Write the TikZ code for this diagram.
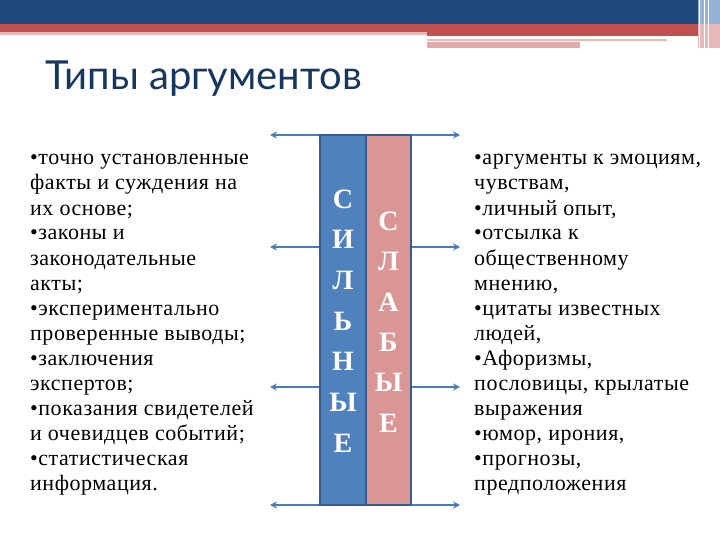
\documentclass[tikz,border=0pt]{standalone}
\usepackage{fontspec}
\setmainfont{Liberation Serif}
\newfontfamily\bodyfont[LetterSpace=2.5]{Liberation Serif}
\newfontfamily\titlefont{Lato}
\usetikzlibrary{arrows.meta}
\definecolor{bandblue}{RGB}{31,73,125}
\definecolor{bandred}{RGB}{192,80,77}
\definecolor{bandpink}{RGB}{230,185,184}
\definecolor{bandlblue}{RGB}{149,179,215}
\definecolor{titleblue}{RGB}{23,55,94}
\definecolor{barblue}{RGB}{79,129,189}
\definecolor{barpink}{RGB}{217,150,148}
\definecolor{barline}{RGB}{56,93,138}
\definecolor{arrblue}{RGB}{74,126,187}
\tikzset{
  bodyline/.style={anchor=base west, inner sep=0pt, font=\bodyfont\fontsize{22}{25}\selectfont},
  barbox/.style={draw=barline, line width=1.5pt, inner sep=0pt, minimum width=46pt, minimum height=370pt},
  barletter/.style={text=white, inner sep=0pt, font=\fontsize{28}{28}\selectfont\bfseries},
  arr/.style={draw=arrblue, line width=2pt, -{Stealth[length=7pt,width=7pt]}}
}
\begin{document}
\begin{tikzpicture}[x=1pt,y=-1pt]
\useasboundingbox (0,0) rectangle (720,540);
% decorative top bands
\fill[bandblue] (0,0) rectangle (698,24);
\fill[bandred] (0,24) rectangle (698,32);
\fill[bandpink] (0,32) rectangle (427,35);
\fill[bandred] (427,32) rectangle (698,36);
\fill[bandpink] (427,39) rectangle (667,41);
\fill[barpink!80!white] (427,42) rectangle (580,48);
\fill[bandlblue] (698,0) rectangle (720,24);
\fill[bandpink] (698,24) rectangle (720,48);
\fill[white] (699,0) rectangle (700,48);
\fill[white] (704,0) rectangle (705,48);
\fill[white] (708,0) rectangle (709,48);
% title
\node[anchor=base west, inner sep=0pt, text=titleblue, font=\titlefont\fontsize{40}{40}\selectfont] (title) at (45,90) {Типы аргументов};
% left text
\foreach \t [count=\i, evaluate=\i as \yy using 140+25*\i] in {
  {•точно установленные},{факты и суждения на},{их основе;},{•законы и},
  {законодательные},{акты;},{•экспериментально},{проверенные выводы;},
  {•заключения},{экспертов;},{•показания свидетелей},{и очевидцев событий;},
  {•статистическая},{информация.}}
  \node[bodyline] (left\i) at (30,\yy) {\t};
% right text
\foreach \t [count=\i, evaluate=\i as \yy using 140+25*\i] in {
  {•аргументы к эмоциям,},{чувствам,},{•личный опыт,},{•отсылка к},
  {общественному},{мнению,},{•цитаты известных},{людей,},
  {•Афоризмы,},{пословицы, крылатые},{выражения},{•юмор, ирония,},
  {•прогнозы,},{предположения}}
  \node[bodyline] (right\i) at (474,\yy) {\t};
% bars
\node[barbox, fill=barblue] (strong) at (343,320) {};
\node[barbox, fill=barpink, minimum width=45pt] (weak) at (388.5,320) {};
\foreach \c [count=\i, evaluate=\i as \yy using 158.3+40.7*\i] in {С,И,Л,Ь,Н,Ы,Е}
  \node[barletter] (s\i) at (343,\yy) {\c};
\foreach \c [count=\i, evaluate=\i as \yy using 180.6+40.4*\i] in {С,Л,А,Б,Ы,Е}
  \node[barletter] (w\i) at (388.5,\yy) {\c};
% arrows
\coordinate (la1) at (270,135);
\coordinate (la2) at (270,247);
\coordinate (la3) at (270,387);
\coordinate (la4) at (270,505);
\coordinate (ra1) at (460,135);
\coordinate (ra2) at (460,247);
\coordinate (ra3) at (460,387);
\coordinate (ra4) at (460,505);
\foreach \k in {1,2,3,4} {
  \draw[arr] (strong.west |- la\k) -- (la\k);
  \draw[arr] (weak.east |- ra\k) -- (ra\k);
}
\end{tikzpicture}
\end{document}
